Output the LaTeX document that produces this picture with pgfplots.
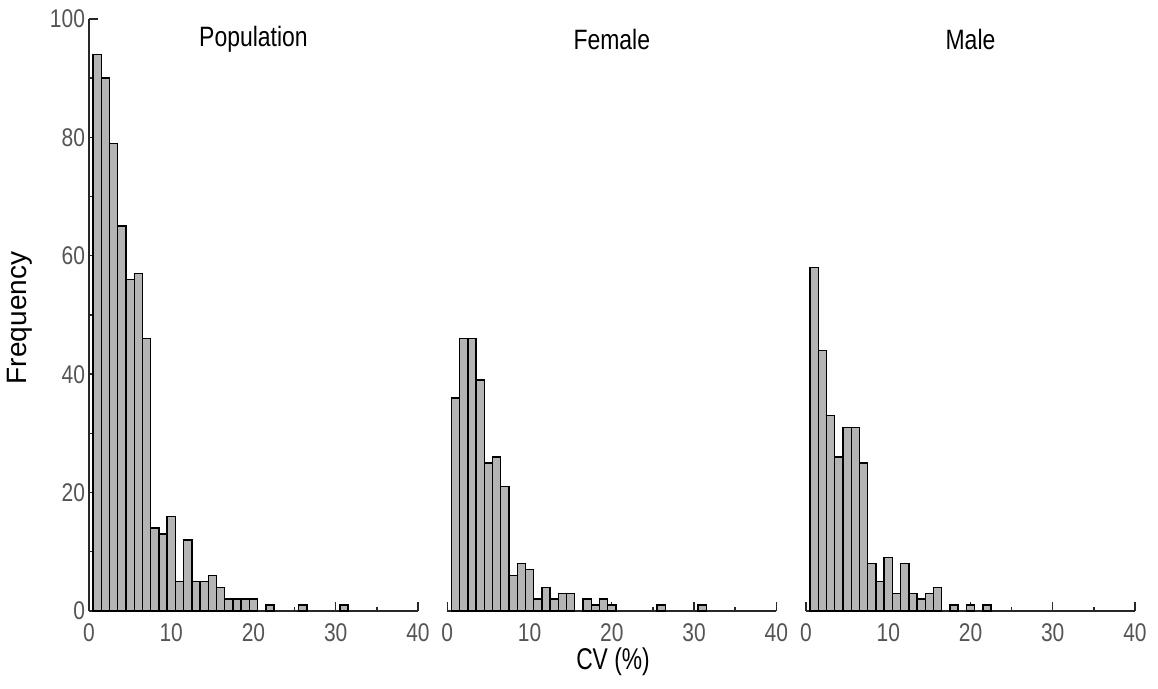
\documentclass[border=0pt]{standalone}
\usepackage{fontspec}
\setmainfont{Liberation Sans}
\newfontfamily\lab[FakeStretch=0.82]{Liberation Sans}
\newfontfamily\labx[FakeStretch=0.76]{Liberation Sans}
\usepackage{pgfplots}
\pgfplotsset{compat=1.18}
\definecolor{barfill}{RGB}{180,180,180}
\definecolor{labgray}{RGB}{85,85,85}
\definecolor{axgray}{RGB}{40,40,40}
\pgfplotsset{
  histo/.style={
    scale only axis, width=164.5pt, height=296pt,
    xmin=0, xmax=40, ymin=0, ymax=100,
    axis x line*=bottom,
    axis line style={-, axgray, line width=0.8pt},
    xtick={0,10,...,40}, minor xtick={5,15,25,35},
    tick align=inside,
    major tick length=4.5pt, minor tick length=2pt,
    every tick/.style={axgray, line width=0.7pt},
    /pgf/number format/assume math mode=true,
    tick label style={font=\lab\fontsize{12.8}{13}\selectfont, text=labgray},
    xticklabel style={inner sep=0.5pt, yshift=-5.5pt},
    yticklabel style={xshift=1.5pt},
    clip=false,
  },
  bars/.style={ybar, bar width=1, fill=barfill, draw=black, line width=0.7pt},
}
\begin{document}
\begin{tikzpicture}
\useasboundingbox (0,0) rectangle (579pt,344.5pt);
% Population
\begin{axis}[histo, at={(44.5pt,39pt)}, anchor=south west,
  axis y line*=left,
  ytick={0,20,...,100}, minor ytick={10,30,50,70,90}]
\addplot[bars] coordinates {
(1,94) (2,90) (3,79) (4,65) (5,56) (6,57) (7,46) (8,14) (9,13) (10,16)
(11,5) (12,12) (13,5) (14,5) (15,6) (16,4) (17,2) (18,2) (19,2) (20,2)
(22,1) (26,1) (31,1)};
\node[font=\lab\fontsize{14}{15}\selectfont] at (rel axis cs:0.5,0.965) {Population};
\end{axis}
% Female
\begin{axis}[histo, at={(223.65pt,39pt)}, anchor=south west,
  axis y line=none]
\addplot[bars] coordinates {
(1,36) (2,46) (3,46) (4,39) (5,25) (6,26) (7,21) (8,6) (9,8) (10,7)
(11,2) (12,4) (13,2) (14,3) (15,3) (17,2) (18,1) (19,2) (20,1)
(26,1) (31,1)};
\node[font=\lab\fontsize{14}{15}\selectfont] at (rel axis cs:0.5,0.965) {Female};
\end{axis}
% Male
\begin{axis}[histo, at={(403pt,39pt)}, anchor=south west,
  axis y line=none]
\addplot[bars] coordinates {
(1,58) (2,44) (3,33) (4,26) (5,31) (6,31) (7,25) (8,8) (9,5) (10,9)
(11,3) (12,8) (13,3) (14,2) (15,3) (16,4) (18,1) (20,1) (22,1)};
\node[font=\lab\fontsize{14}{15}\selectfont] at (rel axis cs:0.5,0.965) {Male};
\end{axis}
\node[rotate=90, font=\fontsize{14}{15}\selectfont] at (10pt,185.5pt) {Frequency};
\node[inner sep=0pt, font=\labx\fontsize{15}{16}\selectfont] at (306.5pt,13.5pt) {CV (\%)};
\end{tikzpicture}
\end{document}
